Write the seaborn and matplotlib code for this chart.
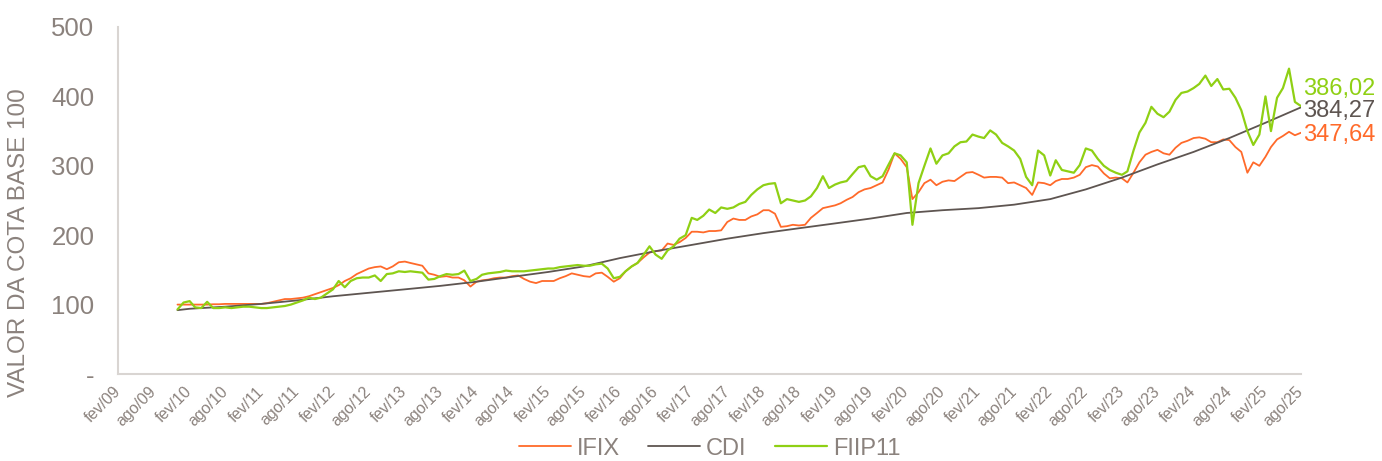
import matplotlib
matplotlib.use("Agg")
import matplotlib.pyplot as plt
import seaborn as sns
import pandas as pd

# ---------------- data ----------------
series_names = ["IFIX", "CDI", "FIIP11"]

# monthly values, dez/2009 .. ago/2025
ifix = [
    100,
    100, 100, 100, 100, 100, 100.5, 100.5, 101, 101, 101, 101, 101,
    101, 101, 102, 104, 106, 108, 108, 109, 110, 112, 115, 118,
    121, 124, 128, 134, 138, 144, 148, 152, 154, 155, 151, 155,
    161, 162, 160, 158, 156, 145, 143, 140, 141, 139, 139, 135,
    126, 133, 135, 136, 138, 139, 139, 141, 142, 137, 133, 131,
    134, 134, 134, 138, 141, 145, 143, 141, 140, 145, 146, 140,
    133, 138, 148, 155, 160, 168, 175, 177, 178, 188, 186, 190,
    196, 205, 205, 204, 206, 206, 207, 219, 224, 222, 222, 227,
    230, 236, 236, 231, 212, 213, 215, 214, 215, 225, 232, 239,
    241, 243, 246, 251, 255, 262, 266, 268, 272, 276, 295, 318,
    310, 298, 252, 262, 275, 280, 272, 277, 279, 278, 284, 290,
    291, 287, 283, 284, 284, 283, 275, 276, 272, 268, 258, 276,
    275, 272, 278, 281, 281, 283, 287, 298, 301, 299, 289, 282,
    283, 282, 276, 290, 305, 316, 320, 323, 318, 316, 326, 333,
    336, 340, 341, 339, 334, 334, 338, 337, 327, 320, 290, 305,
    300, 313, 327, 338, 343, 349, 344, 347.64,
]

fiip11 = [
    93,
    103, 105, 96, 95, 104, 95, 95, 96, 95, 96, 97, 97,
    96, 95, 95, 96, 97, 98, 100, 103, 106, 110, 108, 110,
    116, 122, 134, 125, 134, 138, 139, 139, 142, 134, 144, 145,
    148, 147, 148, 147, 146, 136, 137, 141, 144, 143, 144, 149,
    134, 137, 143, 145, 146, 147, 149, 148, 148, 148, 149, 150,
    151, 152, 152, 154, 155, 156, 157, 156, 156, 158, 159, 152,
    138, 140, 148, 155, 160, 172, 184, 172, 166, 178, 184, 195,
    200, 225, 222, 228, 237, 232, 240, 238, 240, 245, 248, 258,
    266, 272, 274, 275, 246, 252, 250, 248, 250, 256, 268, 285,
    268, 273, 276, 278, 288, 298, 300, 285, 280, 285, 302, 318,
    315, 305, 215, 275, 300, 325, 303, 315, 318, 328, 334, 335,
    345, 342, 340, 351, 345, 333, 328, 322, 310, 284, 272, 322,
    315, 286, 308, 294, 292, 290, 301, 325, 322, 310, 300, 294,
    290, 287, 292, 322, 348, 362, 385, 375, 370, 378, 395, 405,
    407, 412, 418, 430, 415, 425, 410, 411, 398, 380, 350, 330,
    345, 400, 350, 398, 412, 440, 392, 386.02,
]

# semiannual values (dez/09, then fev & ago of each year)
cdi_dates = ["2009-12-01"] + [f"{y}-{m}-01" for y in range(2010, 2026) for m in ("02", "08")]
cdi = [
    92,
    94, 97, 101, 106, 112, 117, 122, 127, 133, 140, 147, 155,
    167, 177, 186, 195, 203, 210, 217, 224, 232, 236, 239, 244,
    252, 266, 283, 302, 320, 340, 362, 384.27,
]

end_labels = ["347,64", "384,27", "386,02"]

tick_labels = [f"{m}/{y:02d}" for y in range(9, 26) for m in ("fev", "ago")]
y_ticks = [0, 100, 200, 300, 400, 500]
y_tick_labels = ["-", "100", "200", "300", "400", "500"]

# ---------------- frame ----------------
monthly_dates = pd.date_range("2009-12-01", periods=len(ifix), freq="MS")
df = pd.concat([
    pd.DataFrame({"data": monthly_dates, "valor": ifix, "serie": "IFIX"}),
    pd.DataFrame({"data": pd.to_datetime(cdi_dates), "valor": cdi, "serie": "CDI"}),
    pd.DataFrame({"data": monthly_dates, "valor": fiip11, "serie": "FIIP11"}),
])

colors = {"IFIX": "#FF6A2A", "CDI": "#5E5551", "FIIP11": "#8FD014"}
widths = {"IFIX": 1.3, "CDI": 1.3, "FIIP11": 1.6}
text_gray = "#8B827D"
spine_gray = "#D9D5D2"

sns.set_theme(style="white")
plt.rcParams["font.family"] = ["Liberation Sans", "DejaVu Sans"]

fig = plt.figure(figsize=(13.82, 4.61), dpi=100)
ax = fig.add_axes([118 / 1382, 1 - 374 / 461, (1301 - 118) / 1382, (374 - 27) / 461])

for name in series_names:
    sub = df[df["serie"] == name]
    sns.lineplot(data=sub, x="data", y="valor", color=colors[name],
                 linewidth=widths[name], estimator=None, label=name, ax=ax)

ax.set_ylim(0, 500)
ax.set_xlim(pd.Timestamp("2009-02-01"), pd.Timestamp("2025-08-01"))

ax.set_yticks(y_ticks)
ax.set_yticklabels(y_tick_labels)
tick_dates = pd.date_range("2009-02-01", periods=len(tick_labels), freq="6MS")
ax.set_xticks(tick_dates)
ax.set_xticklabels(tick_labels, rotation=45, ha="right", va="center",
                   rotation_mode="anchor")

ax.tick_params(axis="y", length=0, pad=17, labelsize=18.5, labelcolor=text_gray)
ax.tick_params(axis="x", length=0, pad=11, labelsize=11.5, labelcolor=text_gray)

for s in ["top", "right"]:
    ax.spines[s].set_visible(False)
for s in ["left", "bottom"]:
    ax.spines[s].set_color(spine_gray)
    ax.spines[s].set_linewidth(1.5)

ax.set_xlabel("")
ax.set_ylabel("VALOR DA COTA BASE 100", fontsize=17.5, color=text_gray,
              family=["Liberation Sans Narrow", "Liberation Sans"])
ax.yaxis.set_label_coords(-0.0745, 0.38)

# end labels
offsets = {"IFIX": -1.5, "CDI": -3.0, "FIIP11": 12.5}
last_vals = {"IFIX": ifix[-1], "CDI": cdi[-1], "FIIP11": fiip11[-1]}
for name, lab in zip(series_names, end_labels):
    ax.annotate(lab, xy=(pd.Timestamp("2025-08-01"), last_vals[name]),
                xytext=(1.5, offsets[name]), textcoords="offset points",
                ha="left", va="center", fontsize=17, color=colors[name],
                annotation_clip=False)

handles, labels = ax.get_legend_handles_labels()
leg = ax.legend(handles, labels, loc="center", bbox_to_anchor=(0.5, -0.215),
                ncol=3, frameon=False, handlelength=2.2, handletextpad=0.25,
                columnspacing=1.2,
                prop={"family": ["Liberation Sans Narrow", "Liberation Sans"], "size": 17})
for t in leg.get_texts():
    t.set_color(text_gray)

fig.savefig("out.png", dpi=100)
